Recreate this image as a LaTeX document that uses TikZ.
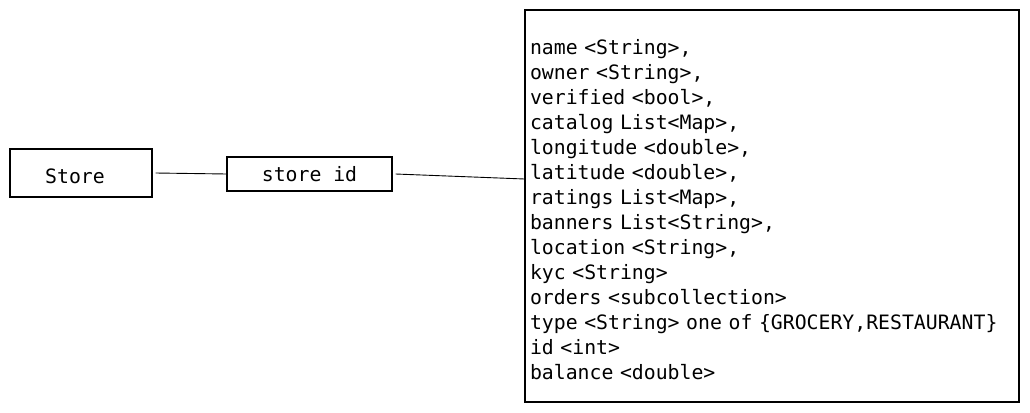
\documentclass[tikz,border=0pt]{standalone}
\usepackage{fontspec}
\setmonofont[WordSpace={1,0,0}]{DejaVu Sans Mono}
\usetikzlibrary{positioning}

\newcommand\codefont{\ttfamily\fontsize{19.8}{25}\selectfont\spaceskip=11.9pt\relax}

\tikzset{
  entity/.style={draw,line width=1.1pt,font=\codefont},
  link/.style={line width=0.9pt}
}

\begin{document}
\begin{tikzpicture}[x=1pt,y=-1pt]
      \useasboundingbox (0,0) rectangle (1030,412);

      \node[entity,minimum width=142pt,minimum height=48pt,text height=20pt,text depth=0pt] (store) at (81,173) {\hspace{-12pt}Store};
      \node[entity,minimum width=165pt,minimum height=34pt] (storeid) at (309.5,174) {store id};
      \node[entity,minimum width=494pt,minimum height=392pt,text width=484pt,inner xsep=5pt,align=left] (fields) at (772,206)
        {\rule{0pt}{23pt}name <String>,\\ owner <String>,\\ verified <bool>,\\ catalog List<Map>,\\
         longitude <double>,\\ latitude <double>,\\ ratings List<Map>,\\ banners List<String>,\\
         location <String>,\\ kyc <String>\\ orders <subcollection>\\
         type <String> one of \{GROCERY,RESTAURANT\}\\ id <int>\\ balance <double>};

      \draw[link] ([xshift=3pt]store.east) -- (storeid.west);
      \draw[link] ([xshift=3pt]storeid.east) -- ([yshift=-5pt]storeid.east -| fields.west);
    \end{tikzpicture}
\end{document}
